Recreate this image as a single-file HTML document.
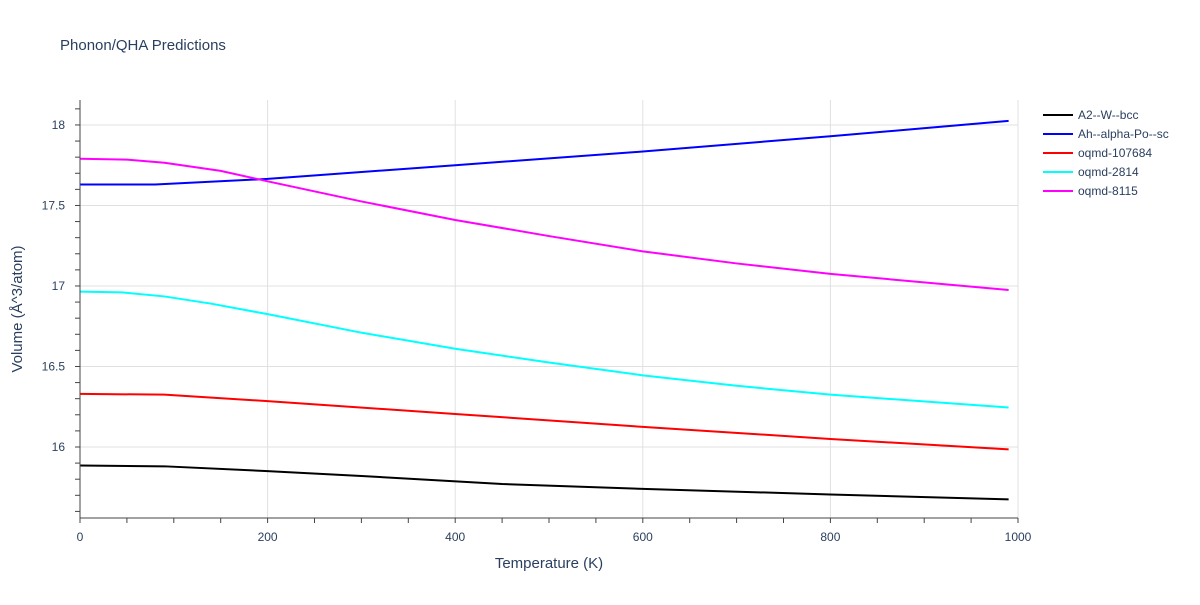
<!DOCTYPE html>
<html><head><meta charset="utf-8">
<style>
body{margin:0;background:#fff;font-family:"Liberation Sans",sans-serif;}
svg text{font-family:"Liberation Sans",sans-serif;fill:#2a3f5f;}
</style></head>
<body>
<svg id="chart" width="1200" height="600">
<text x="60" y="50" font-size="15">Phonon/QHA Predictions</text>
<g id="grid"></g>
<g id="series"></g>
<g id="axes"></g>
<g id="legend"></g>
<text x="549" y="568" font-size="15" text-anchor="middle">Temperature (K)</text>
<text transform="translate(22,309) rotate(-90)" font-size="15" text-anchor="middle">Volume (Å^3/atom)</text>
</svg>
<script>
const xTicks=[0,200,400,600,800,1000];
const yTicks=[16,16.5,17,17.5,18];
const yTickLabels=["16","16.5","17","17.5","18"];
const seriesNames=["A2--W--bcc","Ah--alpha-Po--sc","oqmd-107684","oqmd-2814","oqmd-8115"];
const seriesColors=["#000000","#0000ff","#ff0000","#00ffff","#ff00ff"];
const tA2=[0,90,200,300,450,600,800,990];
const vA2=[15.885,15.88,15.85,15.82,15.77,15.74,15.705,15.675];
const tAh=[0,80,200,400,600,800,990];
const vAh=[17.63,17.63,17.665,17.75,17.835,17.93,18.025];
const t107684=[0,90,200,400,600,800,990];
const v107684=[16.33,16.325,16.285,16.205,16.125,16.05,15.985];
const t2814=[0,45,90,140,200,300,400,500,600,700,800,990];
const v2814=[16.965,16.96,16.935,16.89,16.825,16.71,16.61,16.525,16.445,16.38,16.325,16.245];
const t8115=[0,50,90,150,200,300,400,500,600,700,800,990];
const v8115=[17.79,17.785,17.765,17.715,17.65,17.525,17.41,17.31,17.215,17.14,17.075,16.975];
const seriesT=[tA2,tAh,t107684,t2814,t8115];
const seriesV=[vA2,vAh,v107684,v2814,v8115];

const X0=80,X1=1018,Y0=100,Y1=518,xMin=0,xMax=1000,yMin=15.559,yMax=18.155;
const xs=v=>X0+(v-xMin)/(xMax-xMin)*(X1-X0);
const ys=v=>Y1-(v-yMin)/(yMax-yMin)*(Y1-Y0);
const NS="http://www.w3.org/2000/svg";
function mk(tag,parent,attrs){const e=document.createElementNS(NS,tag);for(const k in attrs)e.setAttribute(k,attrs[k]);parent.appendChild(e);return e;}
const grid=document.getElementById('grid'),axes=document.getElementById('axes'),ser=document.getElementById('series'),leg=document.getElementById('legend');
xTicks.forEach(t=>{
  const l=mk('line',grid,{x1:xs(t),x2:xs(t),y1:Y0,y2:Y1,stroke:'#e0e0e0','stroke-width':1});
  
  
  const tx=mk('text',axes,{x:xs(t),y:Y1+23,'font-size':12,'text-anchor':'middle'});
  tx.textContent=t;
  
  
});
for(let t=0;t<=1000;t+=50){
  const m=mk('line',axes,{x1:xs(t),x2:xs(t),y1:Y1,y2:Y1+5,stroke:'#444','stroke-width':1});
  
  
}
yTicks.forEach((t,i)=>{
  const l=mk('line',grid,{x1:X0,x2:X1,y1:ys(t),y2:ys(t),stroke:'#e0e0e0','stroke-width':1});
  
  
  const tx=mk('text',axes,{x:X0-15,y:ys(t)+4,'font-size':12,'text-anchor':'end'});
  tx.textContent=yTickLabels[i];
  
  
});
for(let t=15.6;t<=18.15;t+=0.1){
  const m=mk('line',axes,{x1:X0-5,x2:X0,y1:ys(t),y2:ys(t),stroke:'#444','stroke-width':1});
  
  
}
const ax=mk('line',axes,{x1:X0,x2:X1,y1:Y1,y2:Y1,stroke:'#444','stroke-width':1});


const ay=mk('line',axes,{x1:X0,x2:X0,y1:Y0,y2:Y1,stroke:'#444','stroke-width':1});


seriesNames.forEach((n,i)=>{
  const pts=seriesT[i].map((t,j)=>xs(t)+','+ys(seriesV[i][j])).join(' ');
  const p=mk('polyline',ser,{points:pts,fill:'none',stroke:seriesColors[i],'stroke-width':2});
  
  
  const g=mk('g',leg,{});
  
  
  const y=115+i*19;
  mk('line',g,{x1:1043,x2:1073,y1:y,y2:y,stroke:seriesColors[i],'stroke-width':2});
  const tx=mk('text',g,{x:1078,y:y+4,'font-size':12});
  tx.textContent=n;
});
</script>
</body></html>
